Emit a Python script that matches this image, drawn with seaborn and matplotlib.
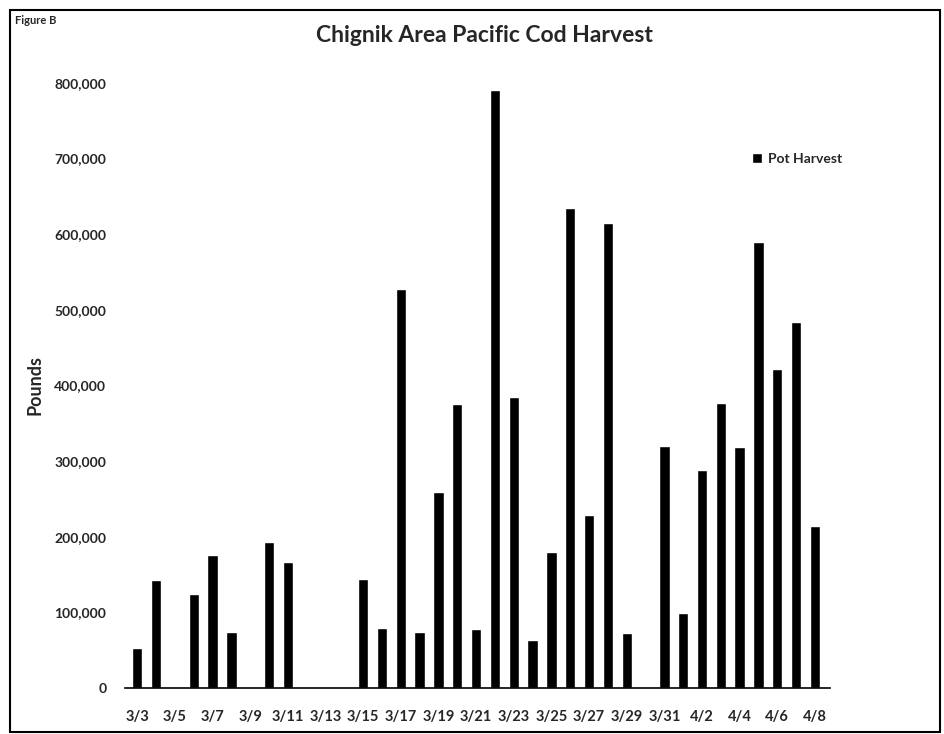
"""
Chignik Area Pacific Cod Harvest - daily pot harvest (pounds), 3/3 to 4/8.
"""
import matplotlib.pyplot as plt
import matplotlib.ticker as mticker
import numpy as np
import pandas as pd
import seaborn as sns
from matplotlib.patches import Rectangle

# Daily categories
dates = [
    "3/3", "3/4", "3/5", "3/6", "3/7", "3/8", "3/9", "3/10", "3/11", "3/12",
    "3/13", "3/14", "3/15", "3/16", "3/17", "3/18", "3/19", "3/20", "3/21",
    "3/22", "3/23", "3/24", "3/25", "3/26", "3/27", "3/28", "3/29", "3/30",
    "3/31", "4/1", "4/2", "4/3", "4/4", "4/5", "4/6", "4/7", "4/8",
]

# Pot harvest in pounds
pot_harvest = [
    53000, 143000, 0, 124000, 176000, 74000, 0, 193000, 167000, 0,
    0, 0, 144000, 79000, 528000, 74000, 259000, 376000, 78000,
    791000, 385000, 63000, 180000, 634000, 229000, 615000, 73000, 0,
    320000, 99000, 288000, 377000, 319000, 590000, 422000, 484000, 214000,
]

y_ticks = [0, 100000, 200000, 300000, 400000, 500000, 600000, 700000, 800000]

df = pd.DataFrame({"date": dates, "pounds": pot_harvest})

sns.set_style("white")
plt.rcParams["font.family"] = ["Lato", "DejaVu Sans"]
plt.rcParams["font.weight"] = "bold"

fig = plt.figure(figsize=(9.45, 7.34), dpi=100)
ax = fig.add_axes([0.1323, 0.0627, 0.746, 0.8243])

sns.barplot(data=df, x="date", y="pounds", color="black", width=0.55,
            saturation=1, ax=ax, label="Pot Harvest")

ax.set_xlim(-0.65, 36.8)
ax.set_ylim(0, 800000)
ax.set_yticks(y_ticks)
ax.yaxis.set_major_formatter(mticker.FuncFormatter(lambda v, p: f"{int(v):,}"))

# label every other day, small ticks between label pairs
ax.set_xticks(np.arange(0, len(dates), 2))
ax.set_xticklabels(dates[::2])
ax.set_xticks(np.arange(1.5, len(dates), 2), minor=True)
ax.tick_params(axis="x", which="major", length=0, pad=16, labelsize=10.5)
ax.tick_params(axis="x", which="minor", length=4, width=1, color="black",
               direction="out")
ax.tick_params(axis="y", length=3, width=1, color="black", direction="inout",
               pad=12, labelsize=10)
for lbl in ax.get_xticklabels() + ax.get_yticklabels():
    lbl.set_fontweight("bold")

for side in ["top", "right", "left"]:
    ax.spines[side].set_visible(False)
ax.spines["bottom"].set_color("black")
ax.spines["bottom"].set_linewidth(1.2)

ax.set_xlabel("")
ax.set_ylabel("Pounds", fontsize=13, fontweight="bold", labelpad=8)

ax.legend(loc="upper left", bbox_to_anchor=(0.872, 0.905), frameon=False,
          handlelength=0.7, handleheight=0.7, handletextpad=0.4,
          prop={"weight": "bold", "size": 10})

fig.text(0.513, 0.951, "Chignik Area Pacific Cod Harvest", ha="center",
         va="center", fontsize=16.5, fontweight="bold")
fig.text(0.016, 0.972, "Figure B", ha="left", va="center", fontsize=8,
         fontweight="bold")

# outer frame of the figure
fig.patches.append(Rectangle((0.011, 0.003), 0.984, 0.984,
                             transform=fig.transFigure, fill=False,
                             edgecolor="black", linewidth=1.5))

plt.savefig("out.png", dpi=100)
